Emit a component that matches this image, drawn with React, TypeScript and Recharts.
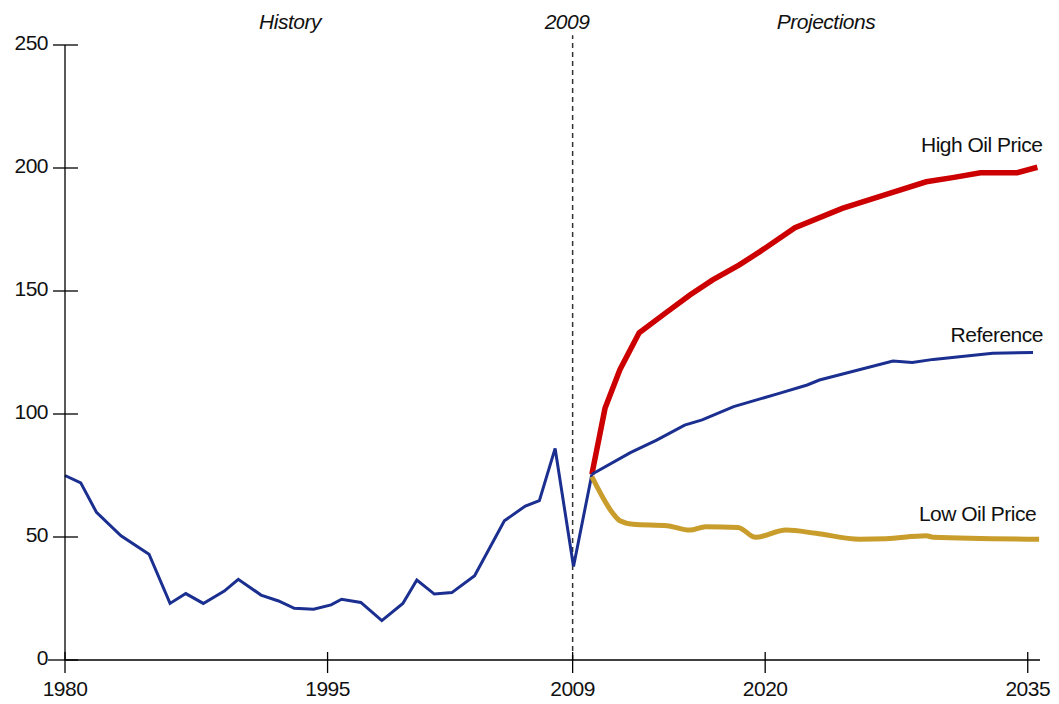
import { LineChart, Line, XAxis, YAxis, ReferenceLine, LabelList } from 'recharts';

// world oil price, 2009 dollars per barrel
const historyYears = [1980, 1980.9, 1981.8, 1983.2, 1984.8, 1986, 1986.9, 1987.9, 1989.1, 1989.9, 1991.2, 1992.2, 1993.1, 1994.2, 1995.2, 1995.8, 1996.9, 1998.1, 1999.3, 2000.1, 2001.1, 2002.1, 2003.4, 2005.1, 2006.3, 2007.1, 2008, 2009.05, 2010.1];
const historyPrices = [75, 72, 60, 50.5, 43, 23, 27, 23, 28, 32.8, 26.4, 24, 21, 20.6, 22.4, 24.7, 23.4, 16, 23, 32.5, 26.8, 27.4, 34.3, 56.6, 62.6, 64.8, 86, 38, 75.5];

const referenceYears = [2010.1, 2012.3, 2013.8, 2015.4, 2016.4, 2018.2, 2020.8, 2022.4, 2023.1, 2027.3, 2028.4, 2029.6, 2033, 2035.3];
const referencePrices = [75.5, 84.3, 89.4, 95.5, 97.6, 103, 108.4, 111.8, 113.8, 121.5, 120.9, 122.2, 124.7, 125];

const highYears = [2010.1, 2010.85, 2011.7, 2012.8, 2014.3, 2015.7, 2017, 2018.5, 2019.7, 2021.7, 2024.4, 2027.1, 2029.2, 2030.7, 2032.3, 2034.4, 2035.55];
const highPrices = [75.5, 102.3, 118, 133, 141, 148.4, 154.5, 160.5, 166, 175.7, 183.6, 189.7, 194.4, 196.1, 198.1, 198.1, 200.3];

const lowYears = [2010.1, 2011.3, 2011.7, 2012.45, 2014.4, 2015.7, 2016.6, 2018.45, 2019.45, 2021.2, 2022.9, 2025.4, 2026.9, 2029.2, 2029.6, 2035.65];
const lowPrices = [74.5, 59.6, 56.6, 55.2, 54.6, 52.8, 54.2, 53.9, 49.9, 52.8, 51.5, 49.1, 49.3, 50.5, 49.9, 49.1];

const xTicks = [1980, 1995, 2009, 2020, 2035];
const yTicks = [0, 50, 100, 150, 200, 250];

const toPoints = (years: number[], vals: number[]) => years.map((year, i) => ({ year, price: vals[i] }));

const history = toPoints(historyYears, historyPrices);
const reference = toPoints(referenceYears, referencePrices);
const high = toPoints(highYears, highPrices);
const low = toPoints(lowYears, lowPrices);

const FONT = '"Liberation Sans", Arial, sans-serif';
const txt = { fontSize: 21, fontFamily: FONT, fill: '#111', letterSpacing: -0.5 };

const YTick = (props: any) => {
  const { x, y, payload } = props;
  return (
    <g>
      <line x1={payload.value === 0 ? x - 17 : x - 12} x2={x + 13} y1={y} y2={y} stroke="#000" strokeWidth={1.3} />
      <text x={x - 17} y={y + 5} textAnchor="end" {...txt}>
        {payload.value}
      </text>
    </g>
  );
};

const XTick = (props: any) => {
  const { x, y, payload } = props;
  return (
    <g>
      <line x1={x} x2={x} y1={y - 8} y2={y + 13} stroke="#000" strokeWidth={1.3} />
      <text x={x} y={y + 36} textAnchor="middle" {...txt}>
        {payload.value}
      </text>
    </g>
  );
};

const endLabel = (text: string, count: number, dx: number, dy: number) => (props: any) => {
  const { x, y, index } = props;
  if (index !== count - 1) return null;
  return (
    <text x={x + dx} y={y + dy} textAnchor="end" {...txt}>
      {text}
    </text>
  );
};

export default function App() {
  return (
    <div style={{ margin: -8, width: 1059, height: 704, background: '#fff' }}>
      <LineChart width={1059} height={704} margin={{ top: 45, right: 19, bottom: 0, left: 5 }}>
        <XAxis
          dataKey="year"
          type="number"
          domain={[1980, 2035.7]}
          ticks={xTicks}
          allowDuplicatedCategory={false}
          height={44}
          tickSize={0}
          tickMargin={0}
          tickLine={false}
          tick={<XTick />}
          axisLine={{ stroke: '#000', strokeWidth: 1.3 }}
        />
        <YAxis
          type="number"
          domain={[0, 250]}
          ticks={yTicks}
          width={60}
          tickSize={0}
          tickMargin={0}
          tickLine={false}
          tick={<YTick />}
          axisLine={{ stroke: '#000', strokeWidth: 1.3 }}
        />
        <ReferenceLine
          segment={[{ x: 2009, y: 0 }, { x: 2009, y: 254 }]}
          ifOverflow="visible"
          stroke="#333"
          strokeWidth={1.5}
          strokeDasharray="5 4"
        />
        <Line data={history} dataKey="price" type="linear" stroke="#1a2f8f" strokeWidth={3} dot={false} isAnimationActive={false} />
        <Line data={low} dataKey="price" type="monotone" stroke="#c99d2b" strokeWidth={5} dot={false} isAnimationActive={false}>
          <LabelList dataKey="price" content={endLabel('Low Oil Price', low.length, -3, -18)} />
        </Line>
        <Line data={high} dataKey="price" type="linear" stroke="#cc0000" strokeWidth={5.5} dot={false} isAnimationActive={false}>
          <LabelList dataKey="price" content={endLabel('High Oil Price', high.length, 5, -15)} />
        </Line>
        <Line data={reference} dataKey="price" type="linear" stroke="#1a2f8f" strokeWidth={3} dot={false} isAnimationActive={false}>
          <LabelList dataKey="price" content={endLabel('Reference', reference.length, 10, -11)} />
        </Line>
        <text x={290} y={29} textAnchor="middle" fontStyle="italic" {...txt}>History</text>
        <text x={567} y={29} textAnchor="middle" fontStyle="italic" {...txt}>2009</text>
        <text x={826} y={29} textAnchor="middle" fontStyle="italic" {...txt}>Projections</text>
      </LineChart>
    </div>
  );
}
